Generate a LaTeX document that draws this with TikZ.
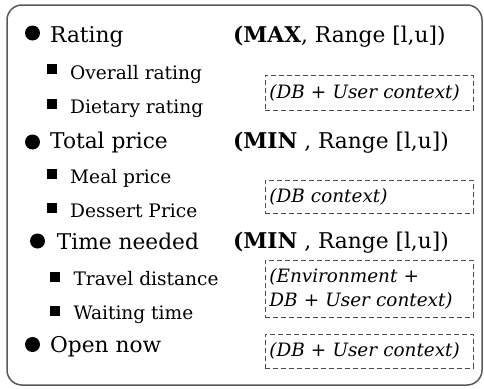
\documentclass[tikz,border=0pt]{standalone}
\usepackage{fontspec}
\setmainfont{DejaVu Serif}
\begin{document}
\begin{tikzpicture}[x=1pt,y=-1pt,
  bigtxt/.style={anchor=base west,inner sep=0pt,font=\fontsize{21.7}{26}\selectfont},
  subtxt/.style={anchor=base west,inner sep=0pt,font=\fontsize{18.6}{22}\selectfont},
  dot/.style={circle,fill=black,inner sep=0pt,minimum size=15pt},
  sq/.style={rectangle,fill=black,inner sep=0pt,minimum size=10pt},
  ctx/.style={draw=black!70,dashed,dash pattern=on 5pt off 3pt,line width=0.8pt,
    anchor=north west,minimum width=208pt,text width=200pt,inner xsep=3.5pt,align=left,
    font=\fontsize{18.4}{24}\itshape\selectfont}]
\useasboundingbox (0,0) rectangle (484,388);
\draw[draw=black!65,line width=1.5pt,rounded corners=15pt] (7,5) rectangle (482,385);
% left column
\node[dot] (b1) at (32.5,33) {};
\node[bigtxt] (t1) at (50,42) {Rating};
\node[sq] (s1) at (51.7,69) {};
\node[subtxt] (u1) at (70,79) {Overall rating};
\node[sq] (s2) at (51.7,104) {};
\node[subtxt] (u2) at (70,113) {Dietary rating};
\node[dot] (b2) at (32.5,142) {};
\node[bigtxt] (t2) at (50,148) {Total price};
\node[sq] (s3) at (51.7,174) {};
\node[subtxt] (u3) at (70,183) {Meal price};
\node[sq] (s4) at (51.7,208) {};
\node[subtxt] (u4) at (70,217) {Dessert Price};
\node[dot] (b3) at (37.5,241) {};
\node[bigtxt] (t3) at (56.7,249) {Time needed};
\node[sq] (s5) at (55,277) {};
\node[subtxt] (u5) at (73.3,285) {Travel distance};
\node[sq] (s6) at (55,311) {};
\node[subtxt] (u6) at (73.3,319) {Waiting time};
\node[dot] (b4) at (32.5,344.5) {};
\node[bigtxt] (t4) at (50,352) {Open now};
% right column
\node[bigtxt] (r1) at (233,42) {\textbf{(MAX}, Range [l,u])};
\node[bigtxt] (r2) at (233,148) {\textbf{(MIN} , Range [l,u])};
\node[bigtxt] (r3) at (233,248) {\textbf{(MIN} , Range [l,u])};
\node[ctx,minimum height=35pt] (c1) at (265,75) {(DB + User context)};
\node[ctx,minimum height=33pt] (c2) at (265,180) {(DB context)};
\node[ctx,minimum height=57pt] (c3) at (265,260) {(Environment +\\DB + User context)};
\node[ctx,minimum height=34pt] (c4) at (265,334) {(DB + User context)};
\end{tikzpicture}
\end{document}
